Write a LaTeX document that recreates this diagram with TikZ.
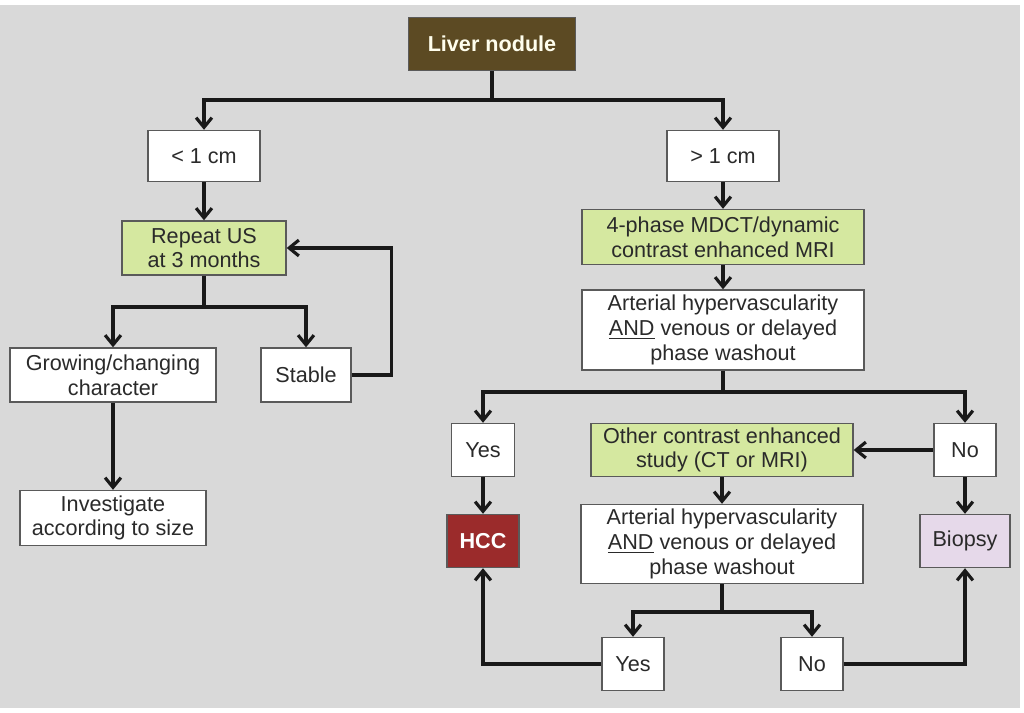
\documentclass[tikz,border=0pt]{standalone}
\usepackage{fontspec}
\setmainfont{Liberation Sans}
\usetikzlibrary{arrows.meta}
\definecolor{bgGray}{HTML}{D9D9D9}
\definecolor{lineGray}{HTML}{5A5A5A}
\definecolor{txtGray}{HTML}{2A2A2A}
\definecolor{topBrown}{HTML}{5C4A23}
\definecolor{studyGreen}{HTML}{D5E8A0}
\definecolor{hccRed}{HTML}{9B2B2B}
\definecolor{bioLilac}{HTML}{E6D9EA}
\tikzstyle{nB}=[rectangle,draw=lineGray,line width=0.8pt,fill=white,inner sep=0pt,text=txtGray,align=center,font=\fontsize{12.3}{14}\selectfont]
\tikzstyle{nG}=[nB,fill=studyGreen]
\tikzstyle{nT}=[nB,fill=topBrown,text={white!93!yellow},font=\fontsize{12.3}{14}\selectfont\bfseries]
\tikzstyle{nH}=[nB,fill=hccRed,text=white,font=\fontsize{12.3}{14}\selectfont\bfseries]
\tikzstyle{nP}=[nB,fill=bioLilac]
\tikzstyle{eL}=[line width=2pt,draw=black!90]
\tikzstyle{eA}=[eL,-{Straight Barb[length=5.5pt,width=9pt,line width=1.8pt]}]

\begin{document}
\begin{tikzpicture}[x=0.02cm,y=-0.02cm]%[1 unit = 1 px]
                \useasboundingbox (0,0) rectangle (1024,713);
                \fill[white] (0,0) rectangle (1024,713);
                \fill[bgGray] (0,5) rectangle (1020,708);
                \draw (492,44) node[nT,minimum width=3.34cm,minimum height=1.06cm] (liver) {Liver nodule};
                \draw (204,156) node[nB,minimum width=2.24cm,minimum height=1.02cm] (small) {< 1 cm};
                \draw (723,156) node[nB,minimum width=2.24cm,minimum height=1.02cm] (big) {> 1 cm};
                \draw (204,248) node[nG,minimum width=3.28cm,minimum height=1.08cm] (repeat) {Repeat US\\at 3 months};
                \draw (113,375) node[nB,minimum width=4.12cm,minimum height=1.08cm] (grow) {Growing/changing\\character};
                \draw (306,375) node[nB,minimum width=1.8cm,minimum height=1.08cm] (stable) {Stable};
                \draw (113,518) node[nB,minimum width=3.72cm,minimum height=1.1cm] (invest) {Investigate\\according to size};
                \draw (723,237) node[nG,minimum width=5.64cm,minimum height=1.1cm] (mdct) {4-phase MDCT/dynamic\\contrast enhanced MRI};
                \draw (723,330) node[nB,minimum width=5.64cm,minimum height=1.6cm] (art1) {Arterial hypervascularity\\\underline{AND} venous or delayed\\phase washout};
                \draw (483,450) node[nB,minimum width=1.26cm,minimum height=1.06cm] (yes1) {Yes};
                \draw (965,450) node[nB,minimum width=1.24cm,minimum height=1.06cm] (no1) {No};
                \draw (722,450) node[nG,minimum width=5.24cm,minimum height=1.06cm] (other) {Other contrast enhanced\\study (CT or MRI)};
                \draw (483,541) node[nH,minimum width=1.44cm,minimum height=1.06cm] (hcc) {HCC};
                \draw (722,544) node[nB,minimum width=5.64cm,minimum height=1.58cm] (art2) {Arterial hypervascularity\\\underline{AND} venous or delayed\\phase washout};
                \draw (965,541) node[nP,minimum width=1.8cm,minimum height=1.06cm] (biopsy) {Biopsy};
                \draw (633,664) node[nB,minimum width=1.24cm,minimum height=1.06cm] (yes2) {Yes};
                \draw (812,664) node[nB,minimum width=1.24cm,minimum height=1.06cm] (no2) {No};
                \coordinate (j0) at (492,100);
                \coordinate (j1) at (204,307);
                \coordinate (j2) at (723,392);
                \coordinate (j3) at (722,612);
                \path
                    (liver) edge[eL] (j0)
                    (small) edge[eA] (repeat)
                    (repeat) edge[eL] (j1)
                    (grow) edge[eA] (invest)
                    (big) edge[eA] (mdct)
                    (mdct) edge[eA] (art1)
                    (art1) edge[eL] (j2)
                    (no1) edge[eA] (other)
                    (yes1) edge[eA] (hcc)
                    (no1) edge[eA] (biopsy)
                    (other) edge[eA] (art2)
                    (art2) edge[eL] (j3)
                ;
                \draw[eA] (j0) -| (small);
                \draw[eA] (j0) -| (big);
                \draw[eA] (j1) -| (grow);
                \draw[eA] (j1) -| (stable);
                \draw[eA] (stable.east) -- ++(40,0) |- (repeat.east);
                \draw[eA] (j2) -| (yes1);
                \draw[eA] (j2) -| (no1);
                \draw[eA] (j3) -| (yes2);
                \draw[eA] (j3) -| (no2);
                \draw[eA] (yes2) -| (hcc);
                \draw[eA] (no2) -| (biopsy);
        \end{tikzpicture}
\end{document}
